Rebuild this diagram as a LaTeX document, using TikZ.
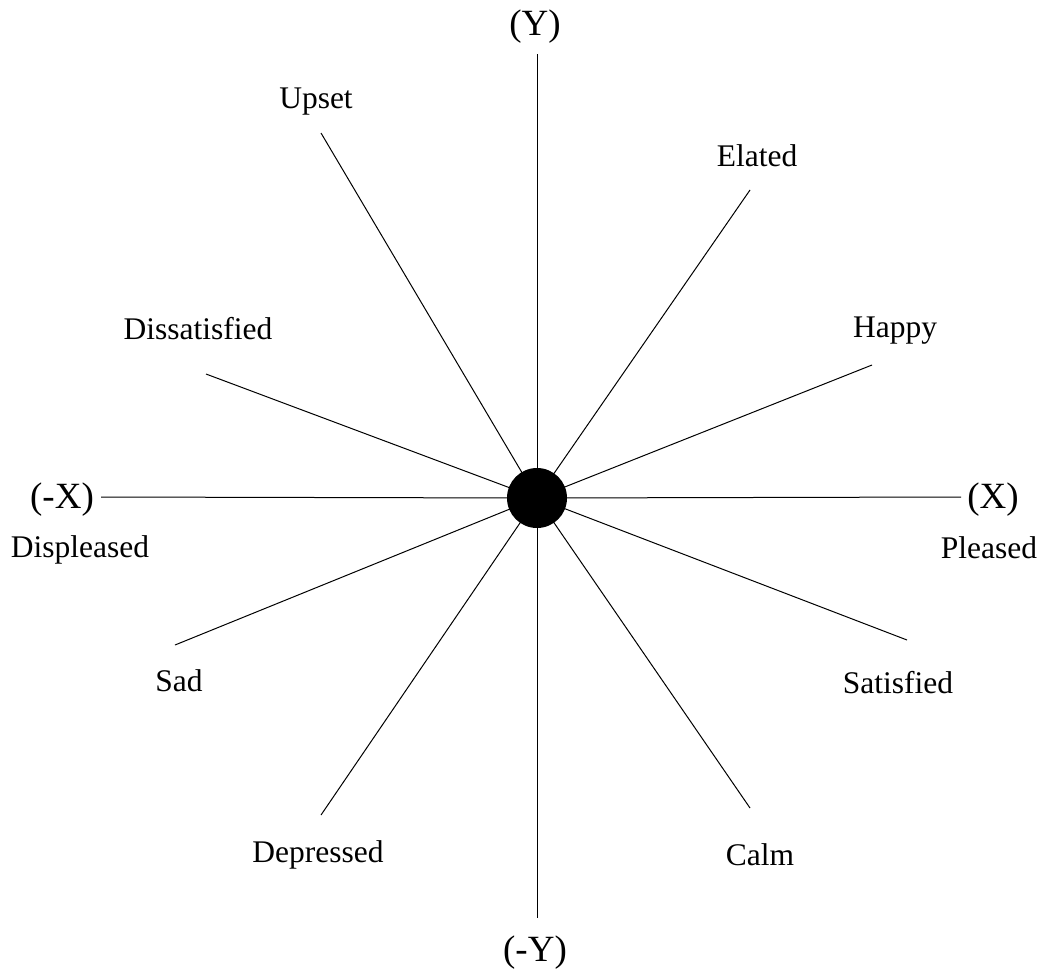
\documentclass[tikz,border=0pt]{standalone}
\usepackage{fontspec}
\setmainfont{Liberation Serif}
\newfontfamily\lserif{Liberation Serif}
\begin{document}
\begin{tikzpicture}[x=1pt,y=-1pt,
  spoke/.style={line width=1pt,black},
  lbl/.style={anchor=base,inner sep=0pt,font=\lserif\fontsize{31.5}{36}\selectfont},
  axlbl/.style={anchor=base,inner sep=0pt,font=\lserif\fontsize{37}{42}\selectfont},
  hubdot/.style={circle,fill=black,minimum size=60pt,inner sep=0pt}]
\useasboundingbox (0,0) rectangle (1046,975);
\coordinate (o) at (537,498);
% end points
\coordinate (yt) at (537,54);
\coordinate (yb) at (537,918);
\coordinate (xl) at (101,497);
\coordinate (xr) at (961,497);
\coordinate (eU) at (321,133);
\coordinate (eE) at (750,190);
\coordinate (eH) at (872,365);
\coordinate (eD) at (206,374);
\coordinate (eS) at (175,645);
\coordinate (eT) at (907,640);
\coordinate (eP) at (321,815);
\coordinate (eC) at (750,808);
\foreach \p in {yt,yb,xl,xr,eU,eE,eH,eD,eS,eT,eP,eC}
  \draw[spoke] (o) -- (\p);
\node[hubdot] (hub) at (o) {};
% labels
\node[axlbl] (lY) at (535,35) {(Y)};
\node[axlbl] (lmY) at (535,961) {(-Y)};
\node[axlbl] (lmX) at (62,508) {(-X)};
\node[axlbl] (lX) at (993,508) {(X)};
\node[lbl] (lDispl) at (80,557) {Displeased};
\node[lbl] (lPl) at (989,558) {Pleased};
\node[lbl] (lUp) at (316,108) {Upset};
\node[lbl] (lEl) at (757,166) {Elated};
\node[lbl] (lDis) at (198,339) {Dissatisfied};
\node[lbl] (lHa) at (895,337) {Happy};
\node[lbl] (lSad) at (179,691) {Sad};
\node[lbl] (lSat) at (898,693) {Satisfied};
\node[lbl] (lDep) at (318,862) {Depressed};
\node[lbl] (lCa) at (760,865) {Calm};
\end{tikzpicture}
\end{document}
